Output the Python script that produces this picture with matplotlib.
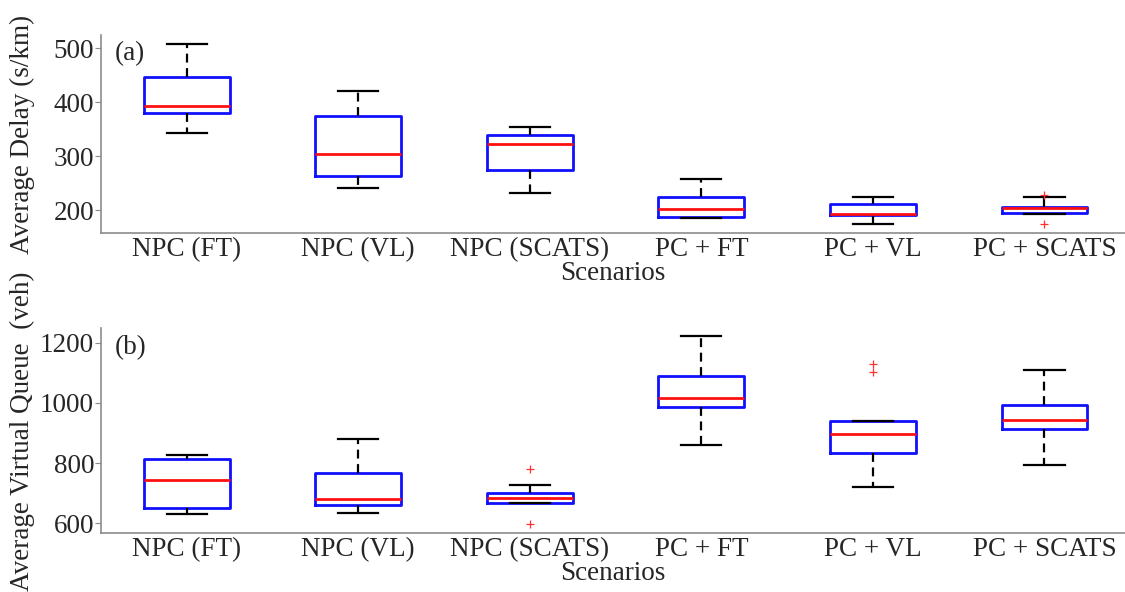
import matplotlib.pyplot as plt

plt.rcParams['font.family'] = ['Liberation Serif', 'DejaVu Serif']

scenarios = ['NPC (FT)', 'NPC (VL)', 'NPC (SCATS)', 'PC + FT', 'PC + VL', 'PC + SCATS']

# (a) average delay, s/km
delay_whislo = [344, 241, 233, 185, 174, 193]
delay_q1 = [381, 264, 274, 188, 191, 195]
delay_med = [393, 305, 323, 202, 193, 204]
delay_q3 = [447, 375, 339, 225, 211, 207]
delay_whishi = [509, 421, 354, 258, 225, 224]
delay_fliers = [[], [], [], [], [], [228, 174]]

# (b) average virtual queue, veh
queue_whislo = [630, 634, 669, 859, 720, 794]
queue_q1 = [652, 660, 669, 986, 834, 914]
queue_med = [744, 681, 683, 1018, 896, 942]
queue_q3 = [815, 769, 701, 1091, 939, 994]
queue_whishi = [827, 880, 728, 1221, 939, 1111]
queue_fliers = [[], [], [781, 599], [], [1130, 1103], []]

FS = 19.5


def make_stats(lo, q1, med, q3, hi, fl):
    return [dict(whislo=a, q1=b, med=c, q3=d, whishi=e, fliers=f)
            for a, b, c, d, e, f in zip(lo, q1, med, q3, hi, fl)]


def draw(ax, stats, ylabel, tag, ylim, yticks, label_y):
    ax.bxp(stats, widths=0.5, showfliers=True,
           boxprops=dict(color='#1010ff', linewidth=2),
           medianprops=dict(color='#ff1010', linewidth=2),
           whiskerprops=dict(color='black', linewidth=1.6, linestyle=(0, (4, 2.5))),
           capprops=dict(color='black', linewidth=1.6),
           capwidths=0.235,
           flierprops=dict(marker='+', markeredgecolor='#ff3030', markersize=6,
                           markeredgewidth=0.9, linestyle='none'))
    ax.set_xlim(0.5, 6.47)
    ax.set_ylim(*ylim)
    ax.set_yticks(yticks)
    ax.set_xticks(range(1, 7))
    ax.set_xticklabels(scenarios)
    ax.set_xlabel('Scenarios', fontsize=FS, labelpad=-1, color='#262626')
    ax.set_ylabel(ylabel, fontsize=FS, color='#262626')
    ax.yaxis.set_label_coords(-0.064, label_y)
    ax.text(0.013, 0.905, tag, transform=ax.transAxes, fontsize=FS,
            ha='left', va='center', color='#262626')
    for s in ['top', 'right']:
        ax.spines[s].set_visible(False)
    for s in ['left', 'bottom']:
        ax.spines[s].set_color('#8c8c8c')
        ax.spines[s].set_linewidth(1.2)
    ax.tick_params(axis='y', labelsize=FS, color='#8c8c8c', length=4, pad=1,
                   labelcolor='#262626')
    ax.tick_params(axis='x', labelsize=FS, length=0, labelcolor='#262626', pad=3)


fig = plt.figure(figsize=(11.25, 5.92), dpi=100)
ax1 = fig.add_axes([0.0898, 0.6064, 0.9102, 0.3345])
ax2 = fig.add_axes([0.0898, 0.0991, 0.9102, 0.3463])

draw(ax1, make_stats(delay_whislo, delay_q1, delay_med, delay_q3, delay_whishi, delay_fliers),
     'Average Delay (s/km)', '(a)', (158, 525), [200, 300, 400, 500], 0.5)
draw(ax2, make_stats(queue_whislo, queue_q1, queue_med, queue_q3, queue_whishi, queue_fliers),
     'Average Virtual Queue  (veh)', '(b)', (567, 1248), [600, 800, 1000, 1200], 0.5)

fig.savefig('out.png', dpi=100)
